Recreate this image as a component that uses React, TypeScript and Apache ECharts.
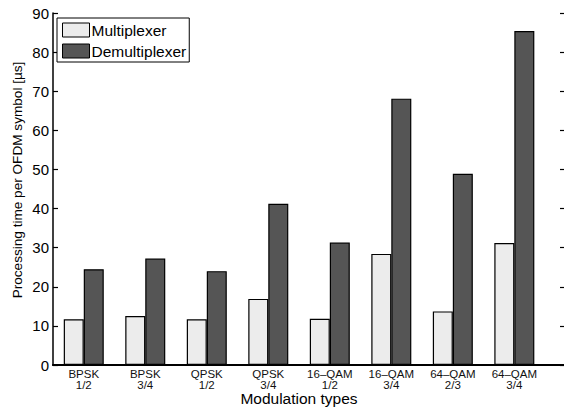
import React, { useEffect, useRef } from "react";
import * as echarts from "echarts";

const categories = [
  "BPSK\n1/2",
  "BPSK\n3/4",
  "QPSK\n1/2",
  "QPSK\n3/4",
  "16\u2013QAM\n1/2",
  "16\u2013QAM\n3/4",
  "64\u2013QAM\n2/3",
  "64\u2013QAM\n3/4",
];
const multiplexer = [11.7, 12.5, 11.7, 16.9, 11.8, 28.4, 13.7, 31.2];
const demultiplexer = [24.5, 27.2, 24.0, 41.2, 31.3, 68.1, 48.9, 85.4];
const yTicks = { min: 0, max: 90, interval: 10 };

const FONT = "Liberation Sans, Arial, Helvetica, sans-serif";

export default function App() {
  const ref = useRef<HTMLDivElement>(null);

  useEffect(() => {
    if (!ref.current) return;
    const chart = echarts.init(ref.current, undefined, { renderer: "svg" });
    const pos = (i: number) => i + 1;
    chart.setOption({
      animation: false,
      backgroundColor: "#ffffff",
      textStyle: { fontFamily: FONT, color: "#000" },
      grid: {
        left: 53,
        top: 13,
        right: -2,
        bottom: 43,
        containLabel: false,
        outerBoundsMode: "none",
      },
      legend: {
        orient: "vertical",
        left: 57,
        top: 18,
        backgroundColor: "#ffffff",
        borderColor: "#000",
        borderWidth: 1,
        borderRadius: 0,
        padding: [4, 3, 3, 5],
        icon: "rect",
        itemWidth: 27,
        itemHeight: 14,
        itemGap: 5,
        itemStyle: { borderColor: "#000", borderWidth: 1 },
        textStyle: { fontFamily: FONT, fontSize: 15.5, color: "#000", padding: [0, 0, 0, -3] },
        data: ["Multiplexer", "Demultiplexer"],
      },
      xAxis: [
        {
          type: "value",
          min: 0.5,
          max: 8.84,
          interval: 0.5,
          position: "bottom",
          name: "Modulation types",
          nameLocation: "middle",
          nameGap: 25.5,
          nameMoveOverlap: false,
          nameTextStyle: { fontFamily: FONT, fontSize: 15.5, color: "#000", padding: [0, 21, 0, 0] },
          axisLine: { show: true, lineStyle: { color: "#000", width: 2 } },
          axisTick: { show: false },
          splitLine: { show: false },
          axisLabel: {
            fontFamily: FONT,
            fontSize: 11.5,
            color: "#111",
            margin: 3,
            lineHeight: 11,
            formatter: (v: number) =>
              Number.isInteger(v) && v >= 1 && v <= categories.length ? categories[v - 1] : "",
          },
        },
        {
          type: "value",
          min: 0.5,
          max: 8.84,
          position: "top",
          axisLine: { show: true, lineStyle: { color: "#000", width: 1.5 } },
          axisTick: { show: false },
          axisLabel: { show: false },
          splitLine: { show: false },
        },
      ],
      yAxis: [
        {
          type: "value",
          min: yTicks.min,
          max: yTicks.max,
          interval: yTicks.interval,
          position: "left",
          name: "Processing time per OFDM symbol [\u00b5s]",
          nameLocation: "middle",
          nameGap: 29,
          nameMoveOverlap: false,
          nameTextStyle: { fontFamily: FONT, fontSize: 13.6, color: "#000", padding: [0, 0, 0, 18] },
          axisLine: { show: true, lineStyle: { color: "#000", width: 1.5 } },
          axisTick: { show: true, inside: true, length: 5, lineStyle: { color: "#000", width: 1.2 } },
          axisLabel: { fontFamily: FONT, fontSize: 15, color: "#000", margin: 4 },
          splitLine: { show: false },
        },
        {
          type: "value",
          min: yTicks.min,
          max: yTicks.max,
          interval: yTicks.interval,
          position: "right",
          axisLine: { show: true, lineStyle: { color: "#000", width: 1.5 } },
          axisTick: { show: true, inside: true, length: 6, lineStyle: { color: "#000", width: 1.2 } },
          axisLabel: { show: false },
          splitLine: { show: false },
        },
      ],
      series: [
        {
          name: "Multiplexer",
          type: "bar",
          xAxisIndex: 0,
          yAxisIndex: 0,
          barWidth: 20,
          barGap: "0%",
          itemStyle: { color: "#ececec", borderColor: "#000", borderWidth: 1.2 },
          data: multiplexer.map((v, i) => [pos(i), v]),
        },
        {
          name: "Demultiplexer",
          type: "bar",
          xAxisIndex: 0,
          yAxisIndex: 0,
          barWidth: 20,
          barGap: "0%",
          itemStyle: { color: "#555555", borderColor: "#000", borderWidth: 1.2 },
          data: demultiplexer.map((v, i) => [pos(i), v]),
        },
      ],
    });
    return () => chart.dispose();
  }, []);

  return <div ref={ref} style={{ width: 564, height: 408, position: "absolute", left: 0, top: 0 }} />;
}
